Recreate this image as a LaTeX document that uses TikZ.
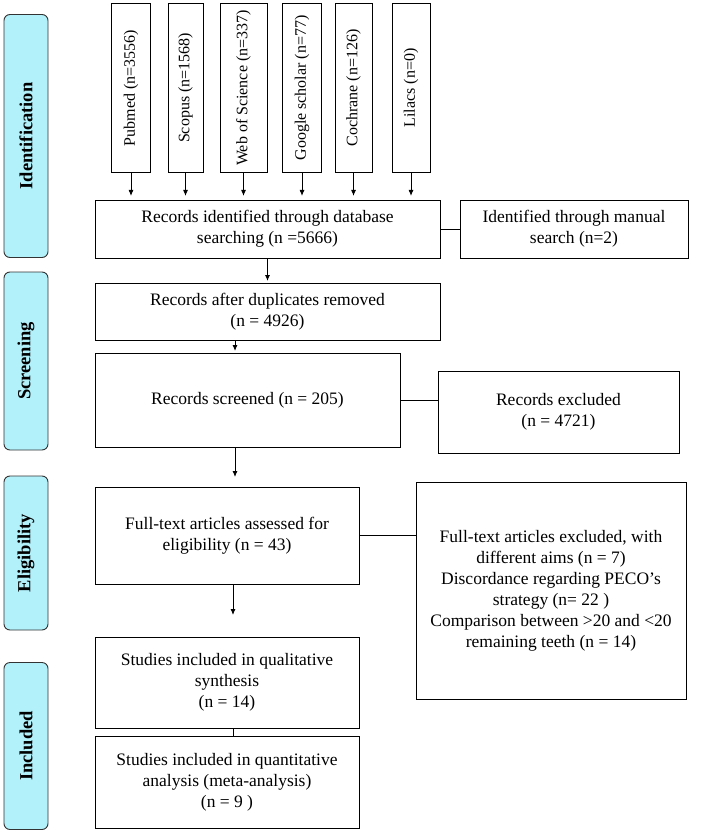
\documentclass[tikz,border=0pt]{standalone}
\usepackage{fontspec}
\setmainfont{Liberation Serif}
\usetikzlibrary{arrows.meta}
\definecolor{labfill}{RGB}{178,240,250}
\begin{document}
\begin{tikzpicture}[x=1pt,y=-1pt,
  box/.style={draw,line width=0.9pt,inner sep=2pt,align=center,font=\fontsize{17.5}{21}\selectfont},
  db/.style={box,rotate=90,minimum height=#1,minimum width=169pt,font=\fontsize{16}{18}\selectfont},
  lab/.style={draw=black!80,line width=0.9pt,fill=labfill,rounded corners=6pt,minimum width=44pt,align=center,font=\bfseries\fontsize{18.5}{20}\selectfont},
  arr/.style={-{Latex[length=6pt,width=5pt]},line width=0.9pt},
  ln/.style={line width=0.9pt}]
\useasboundingbox (0,0) rectangle (708,834);
% stage labels
\node[lab,minimum height=243pt] (l1) at (26,136) {\rotatebox{90}{Identification}};
\node[lab,minimum height=178pt] (l2) at (26,361) {\rotatebox{90}{Screening}};
\node[lab,minimum height=154pt] (l3) at (26,553) {\rotatebox{90}{Eligibility}};
\node[lab,minimum height=167pt] (l4) at (26,746) {\rotatebox{90}{Included}};
% databases
\node[db=39pt] (d1) at (131,88) {Pubmed (n=3556)};
\node[db=35pt] (d2) at (185.5,88) {Scopus (n=1568)};
\node[db=47pt] (d3) at (243.5,88) {Web of Science (n=337)};
\node[db=39pt] (d4) at (302,88) {Google scholar (n=77)};
\node[db=37pt] (d5) at (353.5,88) {Cochrane (n=126)};
\node[db=38pt] (d6) at (411,88) {Lilacs (n=0)};
% main boxes
\node[box,minimum width=345pt,minimum height=58pt] (rid) at (267.5,229) {Records identified through database\\searching (n =5666)};
\node[box,minimum width=228pt,minimum height=58pt] (man) at (574,229) {Identified through manual\\search (n=2)};
\node[box,minimum width=345pt,minimum height=57pt] (dup) at (267.5,312) {Records after duplicates removed\\(n = 4926)};
\node[box,minimum width=305pt,minimum height=94pt] (scr) at (247.5,400) {Records screened (n = 205)};
\node[box,minimum width=241pt,minimum height=82pt] (exc) at (558.5,412) {Records excluded\\(n = 4721)};
\node[box,minimum width=264pt,minimum height=97pt] (eli) at (227,535.5) {Full-text articles assessed for\\eligibility (n = 43)};
\node[box,minimum width=270pt,minimum height=217pt] (fex) at (551,590.5) {Full-text articles excluded, with\\different aims (n = 7)\\Discordance regarding PECO’s\\strategy (n= 22 )\\Comparison between >20 and <20\\remaining teeth (n = 14)};
\node[box,minimum width=264pt,minimum height=91pt] (qua) at (227,682.5) {Studies included in qualitative\\synthesis\\(n = 14)};
\node[box,minimum width=264pt,minimum height=92pt] (qan) at (227,782) {Studies included in quantitative\\analysis (meta-analysis)\\(n = 9 )};
% connectors
\foreach \d in {d1,d2,d3,d4,d5,d6}{
  \draw[arr] (\d.west) -- ++(0,23);}
\draw[ln] (rid.east) -- (man.west);
\coordinate (a1) at (267.5,281);
\draw[arr] (rid.south) -- (a1);
\coordinate (a2) at (235,351);
\draw[arr] (dup.south -| a2) -- (a2);
\draw[ln] (scr.east) -- (scr.east -| exc.west);
\coordinate (a3) at (235,477);
\draw[arr] (scr.south -| a3) -- (a3);
\draw[ln] (eli.east) -- (eli.east -| fex.west);
\coordinate (a4) at (233,615);
\draw[arr] (eli.south -| a4) -- (a4);
\draw[ln] (qua.south -| a4) -- (qan.north -| a4);
\end{tikzpicture}
\end{document}
